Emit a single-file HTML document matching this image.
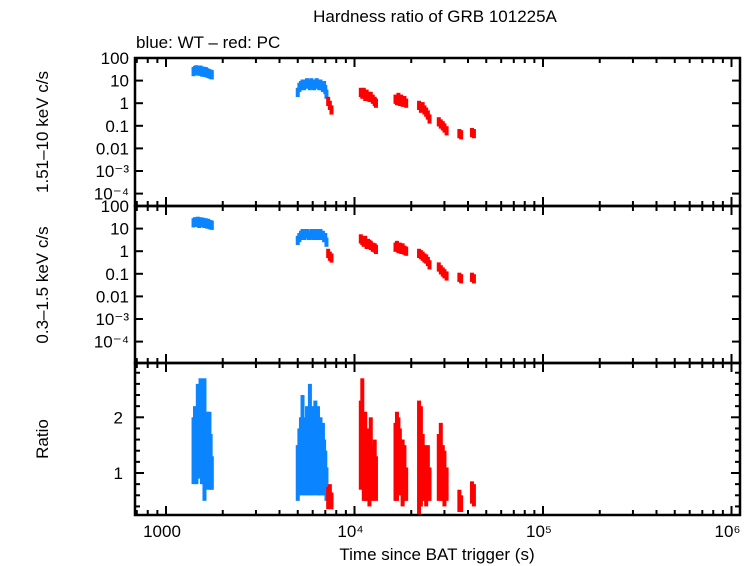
<!DOCTYPE html>
<html><head><meta charset="utf-8"><style>
body{margin:0;background:#fff;}
svg{display:block;font-family:"Liberation Sans",sans-serif;}
</style></head><body>
<svg id="c" width="753" height="566" viewBox="0 0 753 566" xmlns="http://www.w3.org/2000/svg">
<text x="435" y="22" font-size="17" text-anchor="middle">Hardness ratio of GRB 101225A</text>
<text x="136" y="48" font-size="17">blue: WT – red: PC</text>
<text transform="translate(48,132) rotate(-90)" font-size="17" text-anchor="middle">1.51–10 keV c/s</text>
<text transform="translate(48,285) rotate(-90)" font-size="17" text-anchor="middle">0.3–1.5 keV c/s</text>
<text transform="translate(48,439) rotate(-90)" font-size="17" text-anchor="middle">Ratio</text>
<text x="437" y="560" font-size="17" text-anchor="middle">Time since BAT trigger (s)</text>
<g id="g"></g>
</svg>
<script>
const wtTime=[1400,1425,1450,1475,1500,1525,1550,1575,1600,1625,1650,1675,1700,1725,1750,5000,5100,5200,5300,5400,5500,5600,5700,5800,5900,6000,6100,6200,6300,6400,6500,6600,6700,6800,6900,7000,7100];
const wtHard=[25,28,30,27,26,29,24,26,23,25,22,21,20,19,18,3,5,6,7,6,7,8,7,6,8,7,6,7,8,7,6,7,6,5,6,4,2.5];
const wtSoft=[18,20,19,21,17,20,18,19,17,18,16,17,15,15,14,3,4,5,6,5,6,6,5,5,6,6,5,6,6,5,5,6,5,5,4,4,2.5];
const wtRatio=[1.4,1.6,1.3,1.8,1.5,1.9,1.4,1.3,1.6,1.2,1.5,1.3,1.4,1.2,1.0,1.0,1.2,1.3,1.5,1.2,1.3,1.4,1.2,1.6,1.3,1.4,1.2,1.5,1.3,1.4,1.2,1.3,1.2,1.3,1.1,1.0,0.8];
const wtRatioErr=[0.6,0.6,0.5,0.8,0.6,0.8,0.6,0.5,1.1,0.5,0.6,0.5,0.7,0.5,0.3,0.5,0.6,0.7,0.9,0.6,0.7,0.8,0.6,1.0,0.7,0.8,0.6,0.8,0.7,0.8,0.6,0.7,0.6,0.6,0.5,0.4,0.3];
const pcTime=[7250,7400,7550,10800,11000,11200,11400,11600,11800,12000,12200,12500,12800,13000,16500,16800,17100,17400,17700,18000,18400,18800,22000,22500,23000,23500,24000,24500,25000,28000,28700,29400,30000,30800,36000,36800,42000,43000];
const pcHard=[1.2,0.8,0.5,3,2.5,3,2,2.5,2,1.8,2,1.5,1.2,1,1.5,1.3,1.8,1.2,1.5,1.1,1.3,1.0,0.8,0.6,0.7,0.5,0.4,0.3,0.2,0.15,0.12,0.1,0.08,0.06,0.045,0.04,0.05,0.045];
const pcSoft=[0.8,0.6,0.5,3.5,3,2.5,3,2,2.2,2,1.8,1.5,1.4,1.2,1.5,1.8,1.3,1.5,1.2,1.4,1.1,1.0,0.8,0.7,0.6,0.5,0.45,0.35,0.25,0.2,0.15,0.12,0.1,0.08,0.07,0.06,0.07,0.06];
const pcRatio=[0.55,0.6,0.5,1.5,1.8,1.2,1.3,1.1,1.2,1.0,1.3,1.0,1.1,0.9,1.2,1.3,1.4,1.2,1.1,1.0,1.0,0.8,1.2,1.3,1.1,1.0,0.9,1.0,0.8,1.1,1.2,1.0,0.9,0.8,0.5,0.45,0.65,0.6];
const pcRatioErr=[0.2,0.2,0.15,0.8,0.9,0.7,0.8,0.6,0.6,0.6,0.7,0.5,0.5,0.4,0.7,0.8,0.6,0.6,0.5,0.6,0.5,0.3,1.1,0.9,0.6,0.5,0.5,0.5,0.3,0.6,0.7,0.5,0.5,0.3,0.2,0.15,0.2,0.2];
const rateTickLabels=["100","10","1","0.1","0.01","10⁻³","10⁻⁴"];
const ratioTicks=[1,2];
const xTickLabels=["1000","10⁴","10⁵","10⁶"];

const NS="http://www.w3.org/2000/svg";
const g=document.getElementById('g');
const L=135,R=740;
const xs=t=>166+188.5*(Math.log10(t)-3);
const panels=[{top:58,bot:206},{top:206,bot:363},{top:363,bot:515}];
const yLog=(p,v)=>p.top+(2-Math.log10(v))*22.6;
const yRat=v=>473-(v-1)*55.7;
function el(tag,a,parent){const e=document.createElementNS(NS,tag);for(const k in a)e.setAttribute(k,a[k]);(parent||g).appendChild(e);return e;}
panels.forEach((p,i)=>{
  const r=el('rect',{x:L,y:p.top,width:R-L,height:p.bot-p.top,fill:'none',stroke:'#000','stroke-width':2.5});
  
  
  for(let d=2;d<=6;d++){for(let m=1;m<10;m++){const t=m*Math.pow(10,d);const x=xs(t);if(x<L||x>R)continue;const len=m==1?9:5;
    el('line',{x1:x,x2:x,y1:p.top,y2:p.top+len,stroke:'#000','stroke-width':2});
    el('line',{x1:x,x2:x,y1:p.bot,y2:p.bot-len,stroke:'#000','stroke-width':2});}}
  if(i<2){for(let k=0;k<=6;k++){const y=p.top+k*22.6;
    el('line',{x1:L,x2:L+8,y1:y,y2:y,stroke:'#000','stroke-width':2});
    el('line',{x1:R,x2:R-8,y1:y,y2:y,stroke:'#000','stroke-width':2});
    const tx=el('text',{x:L-6,y:y+6,'font-size':17,'text-anchor':'end'});tx.textContent=rateTickLabels[k];
    
    }}
  else{for(let v=0.4;v<2.95;v+=0.2){const y=yRat(v);const maj=Math.abs(v-Math.round(v))<0.01;const len=maj?9:5;
    el('line',{x1:L,x2:L+len,y1:y,y2:y,stroke:'#000','stroke-width':2});
    el('line',{x1:R,x2:R-len,y1:y,y2:y,stroke:'#000','stroke-width':2});}
    ratioTicks.forEach(v=>{const tx=el('text',{x:L-12,y:yRat(v)+6,'font-size':17,'text-anchor':'end'});tx.textContent=v;
    
    });}
});
xTickLabels.forEach((s,k)=>{const tx=el('text',{x:xs(Math.pow(10,k+3))-4,y:537,'font-size':17,'text-anchor':'middle'});tx.textContent=s;
  
  });
function series(time,hard,soft,ratio,err,color,name){
  time.forEach((t,i)=>{const x=xs(t);
    const a=el('rect',{x:x-2,y:yLog(panels[0],hard[i]*1.6),width:4,height:yLog(panels[0],hard[i]/1.6)-yLog(panels[0],hard[i]*1.6),fill:color});
    
    
    const b=el('rect',{x:x-2,y:yLog(panels[1],soft[i]*1.6),width:4,height:yLog(panels[1],soft[i]/1.6)-yLog(panels[1],soft[i]*1.6),fill:color});
    
    
    const lo=Math.max(ratio[i]-err[i],0.26);
    const c=el('rect',{x:x-2,y:yRat(ratio[i]+err[i]),width:4,height:yRat(lo)-yRat(ratio[i]+err[i]),fill:color});
    
    
  });
}
series(wtTime,wtHard,wtSoft,wtRatio,wtRatioErr,'#0a84ff','wt');
series(pcTime,pcHard,pcSoft,pcRatio,pcRatioErr,'#ff0000','pc');
</script>
</body></html>
